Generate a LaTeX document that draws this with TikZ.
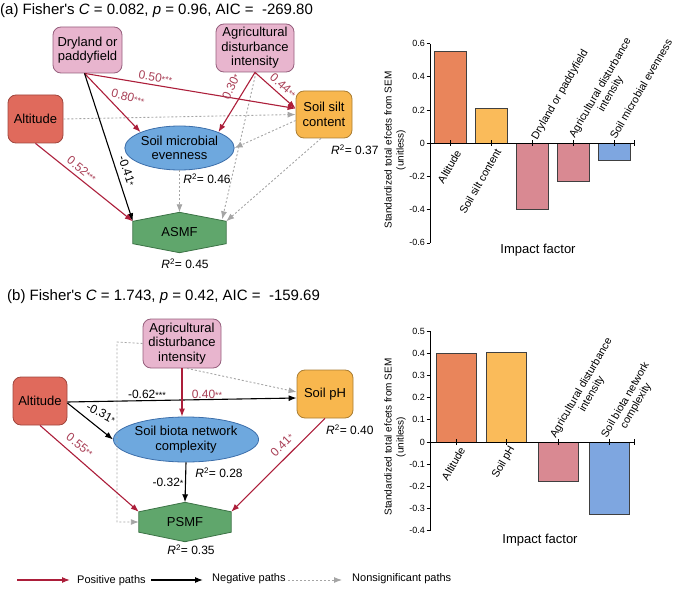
\documentclass[tikz,border=0pt]{standalone}
\usepackage{fontspec}
\setmainfont{Liberation Sans}
\usetikzlibrary{arrows.meta,calc,shapes.geometric}
\pgfdeclarelayer{bg}
\pgfsetlayers{bg,main}
\definecolor{pinkF}{RGB}{232,181,206}
\definecolor{pinkD}{RGB}{150,95,125}
\definecolor{altF}{RGB}{224,106,92}
\definecolor{altD}{RGB}{160,70,62}
\definecolor{orgF}{RGB}{248,183,78}
\definecolor{orgD}{RGB}{170,125,50}
\definecolor{bluF}{RGB}{110,168,222}
\definecolor{bluD}{RGB}{60,110,170}
\definecolor{grnF}{RGB}{96,166,108}
\definecolor{grnD}{RGB}{60,115,70}
\definecolor{posC}{RGB}{172,30,58}
\definecolor{posT}{RGB}{168,62,85}
\definecolor{nsC}{RGB}{165,165,165}
\definecolor{barAlt}{RGB}{233,133,91}
\definecolor{barOrg}{RGB}{250,187,90}
\definecolor{barPink}{RGB}{217,137,146}
\definecolor{barBlue}{RGB}{126,166,224}
\newcommand\myhex[2]{\begin{pgfonlayer}{bg}\draw[fill=grnF,draw=grnD,line width=0.8pt] (#1.north west) -- ($(#1.north)+(0,-#2)$) -- (#1.north east) -- (#1.south east) -- ($(#1.south)+(0,#2)$) -- (#1.south west) -- cycle;\end{pgfonlayer}}
\newcommand\st[1]{{\fontsize{9}{9}\selectfont #1}}
\newcommand\Rsq[1]{{\itshape R}\textsuperscript{2}= #1}
\tikzset{
  box/.style={rounded corners=8pt, line width=0.8pt, align=center, font=\fontsize{13}{14.5}\selectfont, inner sep=1pt},
  pinkbox/.style={box, fill=pinkF, draw=pinkD},
  altbox/.style={box, fill=altF, draw=altD},
  orgbox/.style={box, fill=orgF, draw=orgD},
  ellbox/.style={ellipse, fill=bluF, draw=bluD, line width=0.8pt, align=center, inner sep=0pt, font=\fontsize{13}{14.5}\selectfont},
  hexnode/.style={inner sep=0pt, font=\fontsize{13}{14.5}\selectfont},
  arrtip/.style={-{Latex[length=8pt,width=6pt]}},
  posarrow/.style={draw=posC, line width=1.1pt, arrtip},
  negarrow/.style={draw=black, line width=1.1pt, arrtip},
  nsarrow/.style={draw=nsC, line width=0.9pt, dash pattern=on 2pt off 2pt, arrtip},
  lab/.style={font=\fontsize{12}{12}\selectfont, inner sep=1pt},
  poslab/.style={lab, text=posT},
  rlab/.style={font=\fontsize{12}{12}\selectfont, inner sep=1pt},
  ttl/.style={font=\fontsize{15}{15}\selectfont, anchor=west, inner sep=0pt},
  barbox/.style={draw=black!75, line width=0.8pt},
  tickl/.style={font=\fontsize{9}{9}\selectfont, anchor=east, inner sep=1pt},
  catl/.style={font=\fontsize{10.8}{12}\selectfont, rotate=60, inner sep=1pt, align=center},
  axl/.style={font=\fontsize{10}{12}\selectfont, rotate=90, align=center},
  impl/.style={font=\fontsize{13}{13}\selectfont},
  legt/.style={font=\fontsize{11}{11}\selectfont, anchor=west, inner sep=0pt}
}
\begin{document}
\begin{tikzpicture}[x=1pt,y=-1pt]
\useasboundingbox (0,0) rectangle (678,591);
%% ---------------- Panel (a) ----------------
\node[ttl] (ta) at (0,11) {(a) Fisher\textquotesingle s \textit{C} = 0.082, \textit{p} = 0.96, AIC = \ -269.80};
\node[pinkbox, minimum width=69pt, minimum height=46pt] (Dry) at (87.5,50) {Dryland or\\paddyfield};
\node[pinkbox, minimum width=78pt, minimum height=48pt] (AgA) at (255,48) {Agricultural\\disturbance\\intensity};
\node[altbox, minimum width=55pt, minimum height=48pt] (AltA) at (35.5,119) {Altitude};
\node[orgbox, minimum width=56pt, minimum height=47pt] (Silt) at (324,114.5) {Soil silt\\content};
\node[ellbox, minimum width=95pt, minimum height=44pt] (Mic) at (179.5,148) {Soil microbial\\evenness};
\node[hexnode, minimum width=93pt, minimum height=22pt] (ASMF) at (179.5,232.5) {ASMF};
\myhex{ASMF}{9}
\coordinate (ASMFtop) at ($(ASMF.north)+(0,-9)$);
\node[rlab] (r46) at (207,179) {\Rsq{0.46}};
\node[rlab] (r45) at (185,264) {\Rsq{0.45}};
\node[rlab, anchor=west] (r37) at (330,150) {\Rsq{0.37}};
\coordinate (DryS) at ($(Dry.south)+(-3,0)$);
\coordinate (SiltIn) at ($(Silt.west)+(0,-6)$);
% nonsignificant
\draw[nsarrow] (AltA.east) -- (Silt.west);
\draw[nsarrow] ($(Silt.west)+(0,6)$) -- (Mic.east);
\draw[nsarrow] ($(Silt.south)+(-3,0)$) -- (ASMF.north east);
\draw[nsarrow] ($(AgA.south)+(1,0)$) -- ($(ASMF.north east)+(-4,-2)$);
\draw[nsarrow] (Mic.south) -- (ASMFtop);
% significant
\draw[posarrow] (DryS) -- (SiltIn) node[poslab, pos=0.33, sloped, above=2pt] (l50) {0.50\st{***}};
\draw[posarrow] (DryS) -- (Mic.north west);
\node[poslab, rotate=-15] (l80) at (128,97) {0.80\st{***}};
\draw[negarrow] (DryS) -- (ASMF.north west);
\node[lab, rotate=-71] (l41) at (127,171) {-0.41\st{*}};
\draw[posarrow] (AgA.south) -- (Mic.north east);
\node[poslab, rotate=65] (l30) at (231,87) {0.30\st{*}};
\draw[posarrow] (AgA.south) -- (SiltIn) node[poslab, pos=0.55, sloped, above=3pt] (l44) {0.44\st{**}};
\draw[posarrow] (AltA.south) -- (ASMF.north west) node[poslab, pos=0.42, sloped, above=3pt] (l52) {0.52\st{***}};
%% ---------------- Panel (b) ----------------
\node[ttl] (tb) at (7,297) {(b) Fisher\textquotesingle s \textit{C} = 1.743, \textit{p} = 0.42, AIC = \ -159.69};
\node[pinkbox, minimum width=78pt, minimum height=49pt] (AgB) at (182,343.5) {Agricultural\\disturbance\\intensity};
\node[altbox, minimum width=54pt, minimum height=48pt] (AltB) at (40,401) {Altitude};
\node[orgbox, minimum width=56pt, minimum height=48pt] (pH) at (325,394) {Soil pH};
\node[ellbox, minimum width=120pt, minimum height=45pt] (Bio) at (186,439.5) {Soil biota network\\complexity};
\node[hexnode, minimum width=92pt, minimum height=20pt] (PSMF) at (185,522) {PSMF};
\myhex{PSMF}{9.5}
\coordinate (PSMFtop) at ($(PSMF.north)+(0,-9.5)$);
\node[rlab, anchor=west] (r40) at (325,430) {\Rsq{0.40}};
\node[rlab] (r28) at (219,473) {\Rsq{0.28}};
\node[rlab] (r35) at (191,550) {\Rsq{0.35}};
\coordinate (c1) at (117,342);
\coordinate (c2) at (117,522);
\draw[nsarrow] (AgB.west) -- (c1) -- (c2) -- (PSMF.west);
\draw[nsarrow] ($(AgB.south)+(5,0)$) -- ($(pH.west)+(0,-2)$);
\draw[negarrow] ($(AltB.east)+(0,1)$) -- ($(pH.west)+(0,4)$);
\node[lab] (l62) at (147,394) {-0.62\st{***}};
\draw[posarrow] (AgB.south) -- (AgB.south |- Bio.north);
\node[poslab] (l40) at (207,394) {0.40\st{**}};
\draw[negarrow] ($(AltB.east)+(0,2)$) -- (Bio.west);
\node[lab, rotate=-28] (l31) at (101,413) {-0.31\st{*}};
\draw[posarrow] (AltB.south) -- (PSMF.north west);
\node[poslab, rotate=-38] (l55) at (80,445) {0.55\st{**}};
\draw[negarrow] (Bio.south) -- (PSMFtop);
\node[lab] (l32) at (168,482) {-0.32\st{*}};
\draw[posarrow] (pH.south) -- (PSMF.north east);
\node[poslab, rotate=45] (l41b) at (282,445) {0.41\st{*}};
%% ---------------- Legend ----------------
\coordinate (lp1) at (17,580); \coordinate (lp2) at (70,580);
\draw[posarrow] (lp1) -- (lp2);
\node[legt] (lpt) at (77,581) {Positive paths};
\coordinate (ln1) at (151,580); \coordinate (ln2) at (203,580);
\draw[negarrow] (ln1) -- (ln2);
\node[legt] (lnt) at (212,579) {Negative paths};
\coordinate (ls1) at (288,580); \coordinate (ls2) at (342,580);
\draw[nsarrow] (ls1) -- (ls2);
\node[legt] (lst) at (352,579) {Nonsignificant paths};
%% ---------------- Bar chart (a) ----------------
\draw[barbox, fill=barAlt] (434.7,143.3) rectangle (466.7,51.2);
\draw[barbox, fill=barOrg] (475.3,143.3) rectangle (507.3,108.4);
\draw[barbox, fill=barPink] (516.3,143.3) rectangle (548.3,209.7);
\draw[barbox, fill=barPink] (557.3,143.3) rectangle (589.3,181.5);
\draw[barbox, fill=barBlue] (598,143.3) rectangle (630,160.7);
\draw[line width=0.8pt] (430,43.7) -- (430,242.9);
\draw[line width=0.8pt] (430,143.3) -- (634,143.3);
\foreach \v/\t in {0.6/0.6,0.4/0.4,0.2/0.2,0/0,-0.2/-0.2,-0.4/-0.4,-0.6/-0.6}{
  \draw[line width=0.8pt] (426.5,143.3-\v*166) -- (430,143.3-\v*166);
  \node[tickl] at (426,143.3-\v*166) {\t};
}
\foreach \x in {450.7,491.3,532.3,573.3,614,634}{
  \draw[line width=0.8pt] (\x,140.3) -- (\x,146.3);
}
\node[catl, anchor=east] (ca1) at (459,150) {Altitude};
\node[catl, anchor=east] (ca2) at (499,149) {Soil silt content};
\node[catl, anchor=west] (ca3) at (534,140) {Dryland or paddyfield};
\node[catl, anchor=west] (ca4) at (577,141) {Agricultural disturbance\\intensity};
\node[catl, anchor=west] (ca5) at (612,139) {Soil microbial evenness};
\node[axl] (ya) at (395,150) {Standardized total efcets from SEM\\(unitless)};
\node[impl] (xa) at (538,250) {Impact factor};
%% ---------------- Bar chart (b) ----------------
\draw[barbox, fill=barAlt] (436,442) rectangle (476,353.2);
\draw[barbox, fill=barOrg] (486.7,442) rectangle (526.7,352.1);
\draw[barbox, fill=barPink] (538,442) rectangle (578,480.9);
\draw[barbox, fill=barBlue] (589,442) rectangle (629,514.2);
\draw[line width=0.8pt] (430,331) -- (430,530.8);
\draw[line width=0.8pt] (430,442) -- (634,442);
\foreach \v/\t in {0.5/0.5,0.4/0.4,0.3/0.3,0.2/0.2,0.1/0.1,0/0,-0.1/-0.1,-0.2/-0.2,-0.3/-0.3,-0.4/-0.4}{
  \draw[line width=0.8pt] (426.5,442-\v*222) -- (430,442-\v*222);
  \node[tickl] at (426,442-\v*222) {\t};
}
\foreach \x in {456,506.7,558,609,634}{
  \draw[line width=0.8pt] (\x,439) -- (\x,445);
}
\node[catl, anchor=east] (cb1) at (463,447) {Altitude};
\node[catl, anchor=east] (cb2) at (513,446) {Soil pH};
\node[catl, anchor=west] (cb3) at (558,441) {Agricultural disturbance\\intensity};
\node[catl, anchor=west] (cb4) at (609,441) {Soil biota network\\complexity};
\node[axl] (yb) at (395,437) {Standardized total efcets from SEM\\(unitless)};
\node[impl] (xb) at (540,540) {Impact factor};
\end{tikzpicture}
\end{document}
